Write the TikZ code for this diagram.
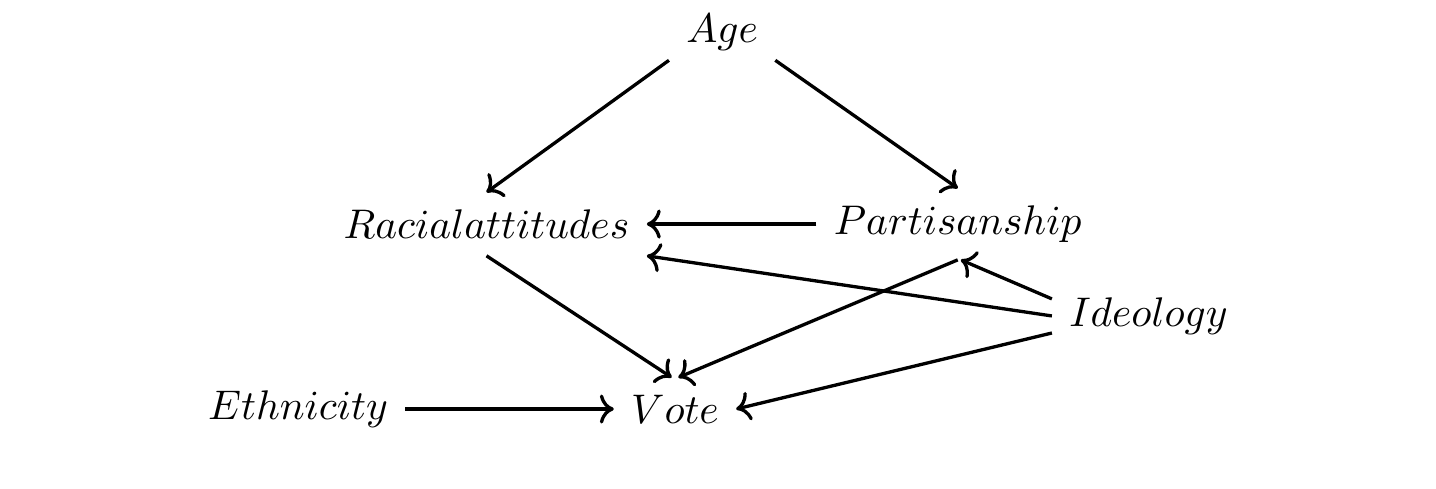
\documentclass[tikz,border=0pt]{standalone}
\usepackage{tikz}
\usetikzlibrary{arrows.meta, positioning}

\begin{document}
\begin{tikzpicture}[
    on grid,
    var/.style={inner sep=4pt},
    arr/.style={->, thick}
]
    \useasboundingbox (-2.53,-0.671) rectangle (9.66,3.472);

    \node[var] (ethnicity) {$Ethnicity$};
    \node[var, right=3.2cm of ethnicity] (vote) {$Vote$};
    \node[var, above left=1.57cm and 1.6cm of vote] (racial) {$Racialattitudes$};
    \node[var, right=4cm of racial] (partisan) {$Partisanship$};
    \node[var, below right=0.78cm and 1.62cm of partisan] (ideology) {$Ideology$};
    \node[var, above right=1.63cm and 2cm of racial] (age) {$Age$};

    \draw[arr] (age.208) -- (racial.north);
    \draw[arr] (age.332) -- (partisan.north);
    \draw[arr] (partisan.west) -- (racial.east);
    \draw[arr] (racial.south) -- (vote.96);
    \draw[arr] (partisan.south) -- (vote.84);
    \draw[arr] (ideology.170) -- (partisan.275);
    \draw[arr] (ideology.west) -- (racial.south east);
    \draw[arr] (ideology.190) -- (vote.east);
    \draw[arr] (ethnicity.east) -- (vote.west);
\end{tikzpicture}
\end{document}
